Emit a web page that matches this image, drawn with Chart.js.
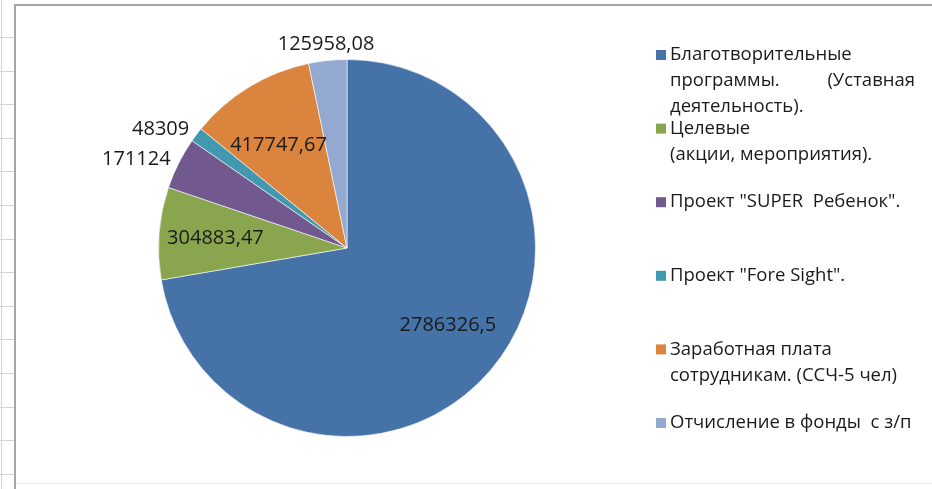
<!DOCTYPE html>
<html>
<head>
<meta charset="utf-8">
<script src="https://cdn.jsdelivr.net/npm/chart.js@4/dist/chart.umd.min.js"></script>
<style>
  html, body { margin: 0; padding: 0; background: #fff; }
  #wrap { position: relative; width: 932px; height: 489px; }
</style>
</head>
<body>
<div id="wrap"><canvas id="pie" width="932" height="489"></canvas></div>
<script>
// Data
const categories = [
  ['Благотворительные', 'программы.   (Уставная', 'деятельность).'],
  ['Целевые', '(акции, мероприятия).'],
  ['Проект "SUPER  Ребенок".'],
  ['Проект "Fore Sight".'],
  ['Заработная плата', 'сотрудникам. (ССЧ-5 чел)'],
  ['Отчисление в фонды  с з/п']
];
const amounts = [2786326.5, 304883.47, 171124, 48309, 417747.67, 125958.08];
const amountLabels = ['2786326,5', '304883,47', '171124', '48309', '417747,67', '125958,08'];
const sliceColors = ['#4572A7', '#89A54E', '#71588F', '#4198AF', '#DB843D', '#93A9CF'];

const FONT = '"Open Sans", "DejaVu Sans", sans-serif';

// spreadsheet frame behind the chart
const framePlugin = {
  id: 'frame',
  beforeDraw(chart) {
    const c = chart.ctx;
    c.save();
    c.fillStyle = '#fff';
    c.fillRect(0, 0, chart.width, chart.height);
    c.strokeStyle = '#d4d4d4';
    c.lineWidth = 1;
    for (let y = 37; y < chart.height; y += 33.6) {
      c.beginPath(); c.moveTo(0, Math.round(y) + 0.5); c.lineTo(14, Math.round(y) + 0.5); c.stroke();
    }
    c.beginPath(); c.moveTo(1.5, 0); c.lineTo(1.5, chart.height); c.stroke();
    c.beginPath(); c.moveTo(16, 483.5); c.lineTo(chart.width, 483.5); c.strokeStyle = '#ececec'; c.stroke();
    c.strokeStyle = '#a6a6a6';
    c.lineWidth = 2;
    c.beginPath(); c.moveTo(15, chart.height); c.lineTo(15, 5); c.lineTo(chart.width, 5); c.stroke();
    c.restore();
  }
};

// value labels: inside for big slices, outside for small ones
const valuePlugin = {
  id: 'values',
  afterDatasetsDraw(chart) {
    const c = chart.ctx;
    const meta = chart.getDatasetMeta(0);
    const total = amounts.reduce((a, b) => a + b, 0);
    c.save();
    c.font = '20px ' + FONT;
    c.fillStyle = '#1a1a1a';
    c.textBaseline = 'middle';
    meta.data.forEach((arc, i) => {
      const p = arc.getProps(['x', 'y', 'startAngle', 'endAngle', 'outerRadius'], true);
      const mid = (p.startAngle + p.endAngle) / 2;
      const dx = Math.cos(mid), dy = Math.sin(mid);
      if (amounts[i] / total > 0.06) {
        c.textAlign = 'center';
        c.fillText(amountLabels[i], p.x + dx * p.outerRadius * 0.7, p.y + dy * p.outerRadius * 0.64);
      } else {
        c.textAlign = dx < -0.3 ? 'right' : (dx > 0.3 ? 'left' : 'center');
        const r = p.outerRadius + (c.textAlign === 'center' ? 16 : 9);
        c.fillText(amountLabels[i], p.x + dx * r, p.y + dy * r);
      }
    });
    c.restore();
  }
};

// legend on the right, Excel style (multi-line entries)
const legendPlugin = {
  id: 'sideLegend',
  afterDraw(chart) {
    const c = chart.ctx;
    const left = 656, textX = 670, right = 915, top = 55, step = 73.6, lineH = 26;
    c.save();
    c.font = '18.5px ' + FONT;
    c.fillStyle = '#1a1a1a';
    c.textBaseline = 'middle';
    categories.forEach((lines, i) => {
      const y0 = top + i * step;
      c.fillStyle = sliceColors[i];
      c.fillRect(left, y0 - 5, 10, 10);
      c.fillStyle = '#1a1a1a';
      lines.forEach((ln, j) => {
        const y = y0 + j * lineH;
        const parts = ln.split('   ');
        if (parts.length > 1) {
          c.textAlign = 'left';
          c.fillText(parts[0], textX, y);
          c.textAlign = 'right';
          c.fillText(parts[parts.length - 1].trim(), right, y);
        } else {
          c.textAlign = 'left';
          c.fillText(ln, textX, y);
        }
      });
    });
    c.restore();
  }
};

new Chart(document.getElementById('pie'), {
  type: 'pie',
  data: {
    labels: categories,
    datasets: [{
      data: amounts,
      backgroundColor: sliceColors,
      borderColor: 'rgba(255,255,255,0.6)',
      borderWidth: 1
    }]
  },
  options: {
    responsive: false,
    animation: false,
    layout: { padding: { left: 158, right: 396, top: 59, bottom: 52 } },
    plugins: {
      legend: { display: false },
      tooltip: { enabled: false }
    }
  },
  plugins: [framePlugin, valuePlugin, legendPlugin]
});
</script>
</body>
</html>
